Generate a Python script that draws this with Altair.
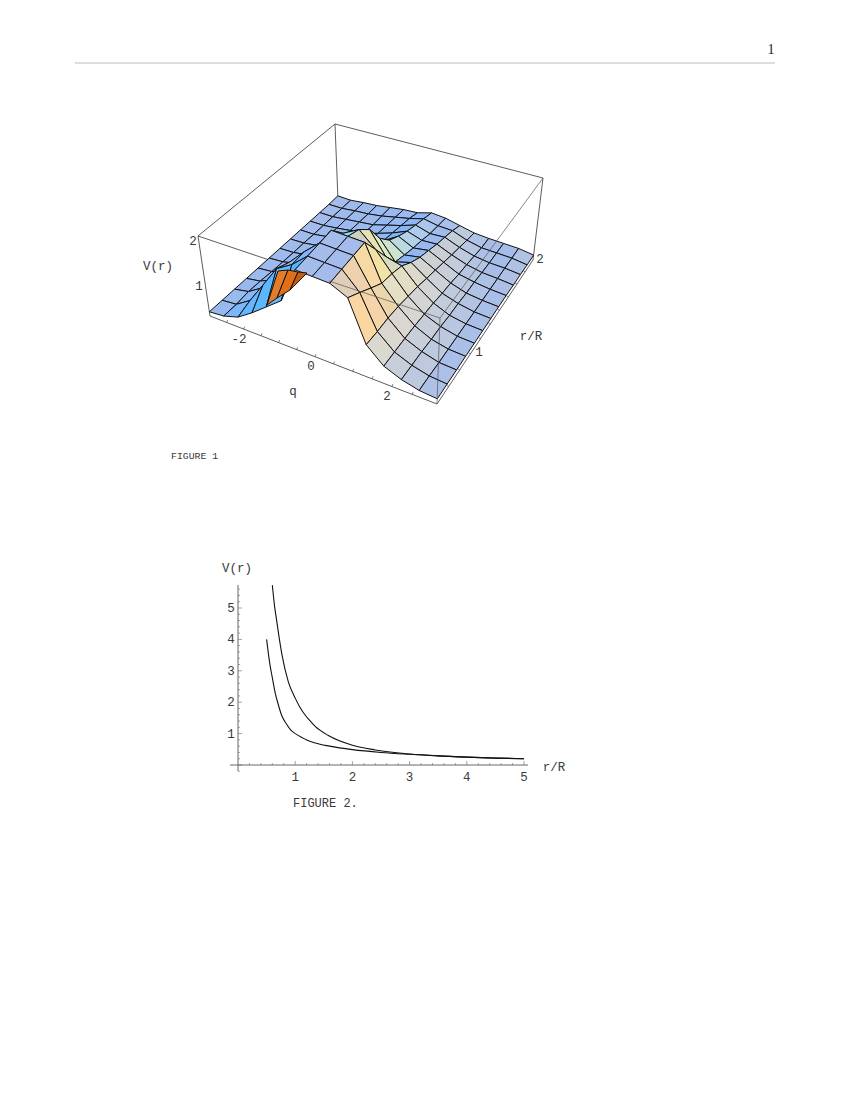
import altair as alt

# Surface heights V, one list per q-column i, values along r-index j (front to back)
col0 = [.47,.47,.47,.47,.47,.47,.47,.47,.47,.47,.47,.47,.48]
col1 = [.50,.50,.53,.52,.50,.49,.48,.48,.47,.47,.47,.47,.47]
col2 = [.60,.70,.72,.66,.60,.56,.53,.52,.51,.50,.50,.50,.50]
col3 = [.82,1.15,1.15,.95,.78,.68,.58,.56,.55,.54,.53,.52,.52]
col4 = [1.08,1.63,1.50,1.25,.95,.78,.62,.60,.58,.57,.56,.56,.56]
col5 = [1.35,1.85,1.85,1.70,1.30,.80,.72,.68,.67,.66,.64,.62,.60]
col6 = [2.17,2.17,2.17,2.17,1.85,1.15,.88,.84,.80,.76,.72,.68,.62]
col7 = [2.17,2.17,2.17,2.17,2.05,1.80,1.38,1.12,.99,.89,.82,.76,.70]
col8 = [2.17,2.17,2.17,2.17,1.75,1.35,1.00,.92,.85,.80,.74,.71,.68]
col9 = [2.00,1.80,1.60,1.42,1.36,1.27,1.10,.98,.90,.82,.76,.70,.62]
col10 = [1.10,1.08,1.08,1.05,1.00,.95,.88,.82,.76,.70,.65,.60,.56]
col11 = [.77,.77,.77,.76,.74,.72,.68,.66,.62,.60,.57,.54,.54]
col12 = [.62,.62,.62,.60,.60,.58,.58,.56,.56,.54,.53,.53,.53]
col13 = [.53,.53,.52,.52,.52,.52,.52,.52,.52,.52,.52,.52,.52]
col14 = [.50,.50,.50,.50,.50,.50,.50,.50,.50,.49,.49,.48,.48]
columns = [col0, col1, col2, col3, col4, col5, col6, col7, col8, col9, col10, col11, col12, col13, col14]

# Underside of the surface seen through the open front edge
underside = [
    ([(267, 305), (278, 271), (288, 270), (277, 298)], "#e47d2a"),
    ([(277, 298), (288, 270), (298, 272), (290, 290)], "#e06f16"),
    ([(290, 290), (298, 272), (307, 273), (297, 283)], "#c85c10"),
]
special_cells = {(6, 3): "#86e4f2"}
# colour response of a falling cell per r-index (red, green, blue)
fall_tint = [(115, 35, -95), (115, 35, -95), (115, 40, -100), (115, 55, -105), (110, 65, -95), (90, 75, -70),
             (80, 75, -50), (60, 75, -30), (45, 70, -10), (40, 60, 0), (40, 50, 0), (40, 40, 0), (40, 30, 0)]

A, B, C, D = (210, 316), (437, 404), (533, 260), (338, 201)
VP = (378, 1434)
Z0, K = 0.38, 0.042

x_ticks = [1, 2, 3, 4, 5]
y_ticks = [1, 2, 3, 4, 5]
lower_in_r = [.5,.56,.6,.65,.7,.77,.85,.92,1]
lower_in_v = [4,3.18,2.78,2.3,1.95,1.55,1.3,1.12,1]
lower_out_r = [1,1.2,1.35,1.6,2,2.5,3,3.5,4,4.5,5]
lower_out_v = [1,.8,.7,.6,.49,.4,.34,.29,.25,.22,.2]
upper_r = [.6,.64,.68,.72,.77,.88,1,1.08,1.17,1.25,1.35,1.58,2,2.4,3,3.5,4,4.5,5]
upper_v = [5.73,5.05,4.55,4.05,3.5,2.65,2.13,1.85,1.6,1.43,1.23,.94,.63,.48,.35,.29,.25,.22,.2]


def det(a, b, c, d):
    return a * d - b * c


def homography():
    x0, y0, x1, y1, x2, y2, x3, y3 = *A, *B, *C, *D
    dx1, dx2, sx = x1 - x2, x3 - x2, x0 - x1 + x2 - x3
    dy1, dy2, sy = y1 - y2, y3 - y2, y0 - y1 + y2 - y3
    dd = det(dx1, dx2, dy1, dy2)
    g = det(sx, dx2, sy, dy2) / dd
    h = det(dx1, sx, dy1, sy) / dd
    return (x1 - x0 + g * x1, x3 - x0 + h * x3, x0,
            y1 - y0 + g * y1, y3 - y0 + h * y3, y0, g, h)


H = homography()


def floor(u, v):
    a, b, c, d, e, f, g, h = H
    w = g * u + h * v + 1
    return (a * u + b * v + c) / w, (d * u + e * v + f) / w


def project(u, v, z):
    x, y = floor(u, v)
    t = (z - Z0) * K
    return x + t * (x - VP[0]), y + t * (y - VP[1])


NI, NJ = len(columns) - 1, len(col0) - 1
P = [[project(i / NI, j / NJ, columns[i][j]) for j in range(NJ + 1)] for i in range(NI + 1)]


def sat(s):
    return s / (abs(s) + .25)


def cell_colour(i, j):
    if (i, j) in special_cells:
        return special_cells[(i, j)]
    c = columns
    sq = (c[i + 1][j] + c[i + 1][j + 1] - c[i][j] - c[i][j + 1]) / 2
    sr = (c[i][j + 1] + c[i + 1][j + 1] - c[i][j] - c[i + 1][j]) / 2
    dq, dr = sat(sq), sat(sr)
    if dq > 0:
        if j >= 1 and i < 6:
            dq *= .6
        r = 163 - 95 * dq - 20 * max(dr, 0)
        g = 188 - 20 * dq + 12 * max(dr, 0)
        b = 236 + 40 * dq
    else:
        tr, tg, tb = fall_tint[j]
        if i >= 10:
            tr, tg, tb = 100, 50, -50
        elif i == 9 and j >= 3:
            tr, tg, tb = 110, 60, -65
        r = 163 - tr * dq
        g = 188 - tg * dq
        b = 236 - tb * dq
    return "#%02x%02x%02x" % tuple(int(max(0, min(255, v))) for v in (r, g, b))


def feature(points, colour):
    ring = [list(p) for p in points] + [list(points[0])]
    return {"type": "Feature", "geometry": {"type": "Polygon", "coordinates": [ring]}, "properties": {"c": colour}}


features = []
for j in range(NJ - 1, -1, -1):
    for i in range(NI):
        features.append(feature([P[i][j], P[i + 1][j], P[i + 1][j + 1], P[i][j + 1]], cell_colour(i, j)))
for pts, colour in underside:
    features.append(feature(pts, colour))

X = alt.X("x:Q", scale=alt.Scale(domain=[8, 842]), axis=None)
Y = alt.Y("y:Q", scale=alt.Scale(domain=[1092, 8]), axis=None)
X2, Y2 = alt.X2("x2:Q"), alt.Y2("y2:Q")


def seg_layer(segs, color="#333333", width=0.8):
    vals = [{"x": a[0], "y": a[1], "x2": b[0], "y2": b[1]} for a, b in segs]
    return alt.Chart(alt.Data(values=vals)).mark_rule(color=color, strokeWidth=width).encode(x=X, y=Y, x2=X2, y2=Y2)


def text_layer(rows, font="Liberation Mono", size=12.5, color="#3a3a3a", align="center"):
    vals = [{"x": x, "y": y, "t": t} for x, y, t in rows]
    return alt.Chart(alt.Data(values=vals)).mark_text(font=font, fontSize=size, color=color, align=align, baseline="middle").encode(x=X, y=Y, text="t:N")


TA, TB, TC, TD = (198, 236), (440, 318), (543, 178), (335, 124)
back_box = seg_layer([(TA, TD), (TD, TC), (TD, D), (TA, A), (TC, C), (TA, (290, 267)), (A, B), (B, C)])

surface = alt.Chart(alt.Data(values=features)).mark_geoshape(stroke="#111111", strokeWidth=1.0).encode(
    fill=alt.Fill("properties.c:N", scale=None)
).project(type="identity", scale=1, translate=[-8, -8])

front_box = seg_layer([((329, 281), TB), (TB, TC), (TB, B)], color="#555555", width=0.7)

q_ticks = [-2.5, -2, -1.5, -1, -.5, 0, .5, 1, 1.5, 2, 2.5]
r_ticks = [.1, .2, .3, .4, .5, .6, .7, .8, .9]
tick_segs = []
for q in q_ticks:
    p = floor((q + 3) / 6.1, 0)
    tick_segs.append((p, (p[0] + 1, p[1] - 2.5)))
for r in r_ticks:
    p = floor(1, r)
    tick_segs.append((p, (p[0] - 2, p[1] - 1)))
ticks3d = seg_layer(tick_segs, width=0.6)

labels = text_layer([
    (158, 266, "V(r)"), (193, 241, "2"), (199, 286, "1"),
    (239, 339, "-2"), (311, 366, "0"), (387, 396, "2"), (293, 391, "q"),
    (531, 336, "r/R"), (479, 352, "1"), (540, 259, "2"),
    (237, 568, "V(r)"), (554, 767, "r/R"),
])
captions = text_layer([(171, 456, "FIGURE 1")], size=9.8, align="left")
captions2 = text_layer([(293, 803, "FIGURE 2.")], size=12, align="left")
page_no = text_layer([(771, 50, "1")], font="Liberation Serif", size=14, color="#222222")
header = seg_layer([((75, 63), (775, 63))], color="#bbbbbb", width=1)


def fx(v):
    return 238 + 57.2 * v


def fy(v):
    return 765 - 31.4 * v


axes2 = seg_layer([((230, fy(0)), (528, fy(0))), ((fx(0), 771), (fx(0), 585))], color="#666666", width=1)
minor = []
for k in range(1, 26):
    L = 4 if k % 5 == 0 else 2
    minor.append(((fx(k * .2), fy(0)), (fx(k * .2), fy(0) - L)))
for k in range(-1, 29):
    L = 4 if k % 5 == 0 else 2
    minor.append(((fx(0), fy(k * .2)), (fx(0) + L, fy(k * .2))))
ticks2 = seg_layer(minor, color="#666666", width=.6)
tl2 = text_layer([(fx(v), 777, str(v)) for v in x_ticks] + [(231, fy(v), str(v)) for v in y_ticks])


def curve(rs, vs):
    vals = [{"x": fx(r), "y": fy(v), "o": n} for n, (r, v) in enumerate(zip(rs, vs))]
    return alt.Chart(alt.Data(values=vals)).mark_line(color="#111111", strokeWidth=1.1, interpolate="monotone").encode(x=X, y=Y, order="o:Q")


chart = alt.layer(back_box, surface, front_box, ticks3d, labels, captions, captions2, page_no, header, axes2, ticks2, tl2,
                  curve(lower_in_r, lower_in_v), curve(lower_out_r, lower_out_v), curve(upper_r, upper_v)
                  ).properties(width=834, height=1084, padding=0, autosize="none", background="white"
                               ).configure_view(stroke=None)
chart.save("out.html", embed_options={"renderer": "svg", "actions": False})
